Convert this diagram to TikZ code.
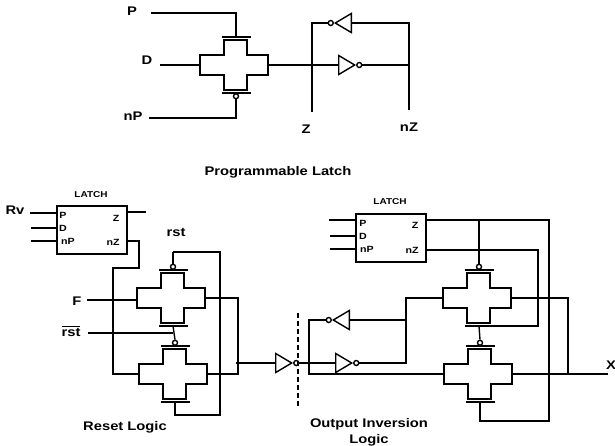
\documentclass[tikz,border=0pt]{standalone}
\usepackage{fontspec}
\setmainfont[FakeStretch=1.18]{Liberation Sans}
\usetikzlibrary{shapes.geometric}

\newcommand{\passgate}[3]{
\draw[gate] (#2,#3) -- (#2,#3+15) -- (#2-24,#3+15) -- (#2-24,#3+35) -- (#2,#3+35) -- (#2,#3+50)
    -- (#2+23,#3+50) -- (#2+23,#3+35) -- (#2+44,#3+35) -- (#2+44,#3+15) -- (#2+23,#3+15) -- (#2+23,#3) -- cycle;
\coordinate (#1top) at (#2+12,#3-3);
\coordinate (#1bot) at (#2+12,#3+53);
\draw[bar] (#2-2,#3-3) -- (#2+27,#3-3);
\draw[bar] (#2-2,#3+53) -- (#2+27,#3+53);
\coordinate (#1in) at (#2-24,#3+25);
\coordinate (#1out) at (#2+44,#3+25);
}

\begin{document}
\begin{tikzpicture}[x=1pt,y=-1pt,line width=1.4pt]

\tikzstyle{gate} = [line width=1.5pt, line join=miter]
\tikzstyle{bar} = [line width=2pt]
\tikzstyle{bubble} = [circle, draw, fill=white, inner sep=0pt, minimum size=5pt, line width=1.4pt]
\tikzstyle{inv} = [isosceles triangle, draw, isosceles triangle apex angle=61, isosceles triangle stretches,
    minimum height=16pt, minimum width=19pt, inner sep=0pt]
\tikzstyle{lbl} = [font=\bfseries\fontsize{12.5}{16}\selectfont, inner sep=0pt]
\tikzstyle{pin} = [font=\bfseries\fontsize{9}{10}\selectfont, inner sep=0pt]
\tikzstyle{latch} = [draw, minimum width=70pt, minimum height=48pt, inner sep=0pt]

\useasboundingbox (0,0) rectangle (615,445);

% programmable latch
\node[lbl] (P) at (132,11) {P};
\node[lbl] (D) at (147,60) {D};
\node[lbl] (nP) at (133,116) {nP};
\node[lbl] (Z) at (306,129) {Z};
\node[lbl] (nZ) at (409,127) {nZ};
\node[lbl] (title) at (278,172) {Programmable Latch};

\coordinate (Pw) at (151,13);
\coordinate (Dw) at (160,65);
\coordinate (nPw) at (149,118);
\coordinate (Zend) at (312,112);
\coordinate (nZend) at (409,110);

\passgate{L}{224}{40}

\node[bubble,anchor=north] (Lbub) at (Lbot) {};
\node[inv,anchor=lower side] (LinvA) at (338,65) {};
\node[bubble,anchor=west] (LbubA) at (LinvA.apex) {};
\node[inv,shape border rotate=180,anchor=lower side] (LinvB) at (352,23) {};
\node[bubble,anchor=east] (LbubB) at (LinvB.apex) {};

\draw (Pw) -| (Ltop);
\draw (Lbub.south) |- (nPw);
\draw (Dw) -- (Lin);
\draw (Lout) -- (LinvA.lower side);
\draw (LbubA.east) -| (nZend);
\draw (LinvB.lower side) -| (nZend);
\draw (LbubB.west) -| (Zend);

% reset side latch
\node[pin,font=\bfseries\fontsize{8.5}{10}\selectfont] (latchA) at (91,195) {LATCH};
\node[latch] (LatA) at (92,230) {};
\node[pin] (pA) at (63,215) {P};
\node[pin] (dA) at (63,228) {D};
\node[pin] (npA) at (68,241) {nP};
\node[pin] (zA) at (116,218) {Z};
\node[pin] (nzA) at (113,242) {nZ};
\node[lbl] (Rv) at (15,210) {Rv};

\coordinate (RvW) at (30,213);
\coordinate (dAw) at (31,228);
\coordinate (npAw) at (31,241);
\coordinate (zAw) at (146,212);
\coordinate (nzAw) at (127,241);

\draw (RvW) -- (RvW -| LatA.west);
\draw (dAw) -- (dAw -| LatA.west);
\draw (npAw) -- (npAw -| LatA.west);
\draw (zAw -| LatA.east) -- (zAw);

% reset logic
\passgate{Ru}{161}{273}
\passgate{Rl}{163}{349}

\node[lbl] (rst) at (176,232) {rst};
\node[lbl] (F) at (77,301) {F};
\node[lbl] (nrst) at (71,331) {$\overline{\mbox{rst}}$};
\node[lbl] (reset) at (125,427) {Reset Logic};

\coordinate (Fw) at (87,300);
\coordinate (nrstW) at (88,333);
\coordinate (rstTop) at (173,252);
\coordinate (rOut) at (238,363);

\node[bubble,anchor=south] (Rubub) at (Rutop) {};
\node[bubble,anchor=south] (Rlbub) at (Rltop) {};
\node[inv,anchor=lower side] (RinvA) at (275,363) {};
\node[bubble,anchor=west] (RbubA) at (RinvA.apex) {};

\draw (nzAw) -| (139,268) -| (113,374) -- (Rlin);
\draw (rstTop) -- (Rubub.north);
\draw (rstTop) -| (220,415) -| (Rlbot);
\draw (Fw) -- (Fw -| Ruin);
\draw (Ruout) -| (rOut) |- (Rlout);
\draw (Rubot) -- (Rlbub.north);
\draw (nrstW) -- (nrstW -| Rubot);
\draw (rOut) ++(-2,0) -- (RinvA.lower side);
\draw (RbubA.east) -- (298,363);
\draw[dash pattern=on 5pt off 3pt,line width=1.5pt] (298,313) -- (298,407);

% output side latch
\node[pin,font=\bfseries\fontsize{8.5}{10}\selectfont] (latchB) at (390,202) {LATCH};
\node[latch] (LatB) at (391,238) {};
\node[pin] (pB) at (363,223) {P};
\node[pin] (dB) at (363,236) {D};
\node[pin] (npB) at (367,249) {nP};
\node[pin] (zB) at (415,225) {Z};
\node[pin] (nzB) at (412,250) {nZ};

\coordinate (pBw) at (329,220);
\coordinate (dBw) at (330,236);
\coordinate (npBw) at (330,249);
\coordinate (zBw) at (549,220);
\coordinate (nzBw) at (538,250);

\draw (pBw) -- (pBw -| LatB.west);
\draw (dBw) -- (dBw -| LatB.west);
\draw (npBw) -- (npBw -| LatB.west);

% output inversion logic
\passgate{Ou}{467}{273}
\passgate{Ol}{468}{349}

\node[lbl] (X) at (611,365) {X};
\node[lbl,align=center] (outInv) at (369,432) {Output Inversion\\Logic};

\coordinate (Xw) at (608,374);
\coordinate (oLoop) at (309,320);
\coordinate (oJoin) at (406,298);

\node[bubble,anchor=south] (Oubub) at (Outop) {};
\node[bubble,anchor=south] (Olbub) at (Oltop) {};
\node[inv,anchor=lower side] (OinvA) at (335,363) {};
\node[bubble,anchor=west] (ObubA) at (OinvA.apex) {};
\node[inv,shape border rotate=180,anchor=lower side] (OinvB) at (350,320) {};
\node[bubble,anchor=east] (ObubB) at (OinvB.apex) {};

\draw (zBw -| LatB.east) -- (zBw) |- (480,421) -- (Olbot);
\draw (zBw -| Oubub) -- (Oubub.north);
\draw (nzBw -| LatB.east) -- (nzBw) |- (Oubot);
\draw (Oubot) -- (Olbub.north);
\draw (Ouin) -- (oJoin) |- (ObubA.east);
\draw (OinvB.lower side) -- (oJoin |- OinvB.lower side);
\draw (ObubB.west) -- (oLoop) |- (Olin);
\draw (298,363) -- (OinvA.lower side);
\draw (Ouout) -| (568,374);
\draw (Olout) -- (Xw);

\end{tikzpicture}
\end{document}
